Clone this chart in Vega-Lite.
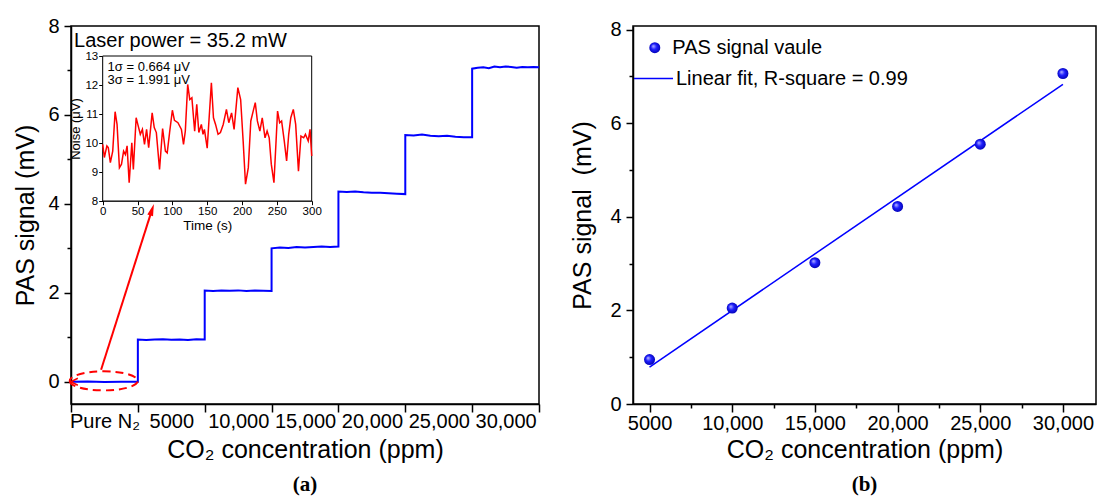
{
"$schema": "https://vega.github.io/schema/vega-lite/v6.json",
"padding": {"left": 13, "top": 15, "right": 0, "bottom": 0},
"spacing": -4,
"resolve": {"legend": {"color": "independent", "shape": "independent"}},
"config": {
  "font": "Liberation Sans",
  "view": {"stroke": "black", "strokeWidth": 1.5},
  "axis": {"grid": false, "domainColor": "black", "domainWidth": 1.5, "tickColor": "black", "tickWidth": 1.5, "labelColor": "black", "titleColor": "black", "labelFont": "Liberation Sans", "titleFont": "Liberation Sans", "titleFontWeight": "normal", "labelFontSize": 20, "titleFontSize": 25, "labelFlush": false, "labelOverlap": false, "labelBound": false},
  "legend": {"labelFont": "Liberation Sans", "labelFontSize": 20, "labelColor": "black", "labelLimit": 500, "padding": 0},
  "title": {"font": "Liberation Serif", "fontSize": 21, "fontWeight": "bold", "color": "black", "orient": "bottom", "anchor": "middle", "frame": "group", "offset": 12}
},
"hconcat": [
{
  "width": 468, "height": 378,
  "title": {"text": "(a)"},
  "layer": [
    {
      "encoding": {
        "x": {"field": "x", "type": "quantitative", "scale": {"domain": [0, 7], "nice": false, "zero": false},
              "axis": {"values": [0,1,2,3,4,5,6,7], "labelExpr": "['Pure N₂','5000','10,000','15,000','20,000','25,000','30,000',''][datum.value]", "labelOffset": 33.5, "tickSize": 8, "labelPadding": -1, "title": "CO₂ concentration (ppm)", "titlePadding": 6}},
        "y": {"field": "y", "type": "quantitative", "scale": {"domain": [-0.5, 8], "nice": false, "zero": false},
              "axis": {"values": [0,1,2,3,4,5,6,7,8], "labelExpr": "datum.value % 2 == 0 ? datum.label : ''", "tickSize": {"condition": {"test": "datum.value % 2 != 0", "value": 4}, "value": 7}, "labelPadding": 5, "title": "PAS signal (mV)", "titlePadding": 9}}
      },
      "layer": [
        {
          "data": {"values": [
            {"i":0,"x":0,"y":0},{"i":1,"x":0.25,"y":0.004},{"i":2,"x":0.5,"y":-0.003},{"i":3,"x":0.75,"y":0.003},{"i":4,"x":1,"y":0},
            {"i":5,"x":1,"y":0.95},{"i":6,"x":1.125,"y":0.94},{"i":7,"x":1.25,"y":0.95},{"i":8,"x":1.375,"y":0.955},{"i":9,"x":1.5,"y":0.945},{"i":10,"x":1.625,"y":0.95},{"i":11,"x":1.75,"y":0.94},{"i":12,"x":1.875,"y":0.955},{"i":13,"x":2,"y":0.95},
            {"i":14,"x":2,"y":2.05},{"i":15,"x":2.125,"y":2.04},{"i":16,"x":2.25,"y":2.05},{"i":17,"x":2.375,"y":2.045},{"i":18,"x":2.5,"y":2.055},{"i":19,"x":2.625,"y":2.04},{"i":20,"x":2.75,"y":2.05},{"i":21,"x":2.875,"y":2.045},{"i":22,"x":3,"y":2.04},
            {"i":23,"x":3,"y":3.0},{"i":24,"x":3.125,"y":3.02},{"i":25,"x":3.25,"y":3.01},{"i":26,"x":3.375,"y":3.03},{"i":27,"x":3.5,"y":3.02},{"i":28,"x":3.625,"y":3.03},{"i":29,"x":3.75,"y":3.04},{"i":30,"x":3.875,"y":3.03},{"i":31,"x":4,"y":3.04},
            {"i":32,"x":4,"y":4.28},{"i":33,"x":4.125,"y":4.27},{"i":34,"x":4.25,"y":4.28},{"i":35,"x":4.375,"y":4.26},{"i":36,"x":4.5,"y":4.25},{"i":37,"x":4.625,"y":4.25},{"i":38,"x":4.75,"y":4.24},{"i":39,"x":4.875,"y":4.23},{"i":40,"x":5,"y":4.22},
            {"i":41,"x":5,"y":5.55},{"i":42,"x":5.125,"y":5.54},{"i":43,"x":5.25,"y":5.56},{"i":44,"x":5.375,"y":5.53},{"i":45,"x":5.5,"y":5.52},{"i":46,"x":5.625,"y":5.53},{"i":47,"x":5.75,"y":5.51},{"i":48,"x":5.875,"y":5.5},{"i":49,"x":6,"y":5.5},
            {"i":50,"x":6,"y":7.04},{"i":51,"x":6.083,"y":7.06},{"i":52,"x":6.167,"y":7.07},{"i":53,"x":6.25,"y":7.05},{"i":54,"x":6.333,"y":7.09},{"i":55,"x":6.417,"y":7.07},{"i":56,"x":6.5,"y":7.09},{"i":57,"x":6.583,"y":7.08},{"i":58,"x":6.667,"y":7.06},{"i":59,"x":6.75,"y":7.08},{"i":60,"x":6.833,"y":7.07},{"i":61,"x":6.917,"y":7.08},{"i":62,"x":7,"y":7.07}
          ]},
          "mark": {"type": "line", "color": "#0000ff", "strokeWidth": 2},
          "encoding": {"order": {"field": "i", "type": "quantitative"}}
        },
        {
          "data": {"values": [{"x": 0.45, "y": 0.27, "x2": 1.212, "y2": 3.87}]},
          "mark": {"type": "rule", "color": "#ff0000", "strokeWidth": 2},
          "encoding": {"x2": {"field": "x2"}, "y2": {"field": "y2"}}
        },
        {
          "data": {"values": [{"x": 1.212, "y": 3.87}]},
          "mark": {"type": "point", "shape": "M 0 -1 L 0.5 1 L -0.5 1 Z", "filled": true, "color": "#ff0000", "size": 144, "angle": 18, "opacity": 1},
          "encoding": {}
        },
        {
          "data": {"values": [{"x": 0.49, "y": 0.02}]},
          "mark": {"type": "point", "shape": "M -1 0 A 1 0.28 0 1 0 1 0 A 1 0.28 0 1 0 -1 0 Z", "filled": false, "stroke": "#ff0000", "strokeWidth": 2, "strokeDash": [8, 5], "size": 4624, "opacity": 1},
          "encoding": {}
        },
        {
          "data": {"values": [{"x": 0.05, "y": 0}]},
          "mark": {"type": "point", "shape": "M 1 -1 L -1 0 L 1 1", "filled": false, "stroke": "#ff0000", "strokeWidth": 1.5, "size": 49, "opacity": 1},
          "encoding": {}
        },
        {
          "data": {"values": [{"x": 0.045, "y": 7.66, "label": "Laser power = 35.2 mW"}]},
          "mark": {"type": "text", "align": "left", "baseline": "middle", "fontSize": 20, "color": "black"},
          "encoding": {"text": {"field": "label"}}
        }
      ]
    },
    {
      "encoding": {
        "x": {"field": "t", "type": "quantitative", "scale": {"domain": [0, 300], "range": [31.7, 240.7], "nice": false, "zero": false},
              "axis": {"orient": "bottom", "offset": -203.3, "values": [0,50,100,150,200,250,300], "labelFontSize": 11.5, "tickSize": 4, "tickWidth": 1, "domainWidth": 1, "labelPadding": 1, "title": "Time (s)", "titleFontSize": 13.5, "titlePadding": 1}},
        "y": {"field": "n", "type": "quantitative", "scale": {"domain": [8, 13], "range": [175, 30], "nice": false, "zero": false},
              "axis": {"orient": "left", "offset": -31.7, "values": [8,9,10,11,12,13], "labelFontSize": 11.5, "tickSize": 4, "tickWidth": 1, "domainWidth": 1, "labelPadding": 1, "title": "Noise (μV)", "titleFontSize": 13, "titlePadding": 2}}
      },
      "layer": [
        {
          "data": {"values": [{"t": 0, "t2": 300, "n": 8, "n2": 13}]},
          "mark": {"type": "rect", "fill": "white", "stroke": "black", "strokeWidth": 1},
          "encoding": {"x2": {"field": "t2"}, "y2": {"field": "n2"}}
        },
        {
          "data": {"values": [
            {"t":0,"n":9.95},{"t":2.4,"n":9.5},{"t":6,"n":9.9},{"t":8,"n":9.84},{"t":11,"n":9.32},{"t":14.4,"n":9.72},{"t":17.8,"n":11.08},{"t":20.6,"n":10.64},{"t":24,"n":9.15},{"t":27,"n":9.27},
            {"t":30,"n":9.72},{"t":32.6,"n":9.6},{"t":35,"n":9.9},{"t":38,"n":8.63},{"t":41.8,"n":10.01},{"t":44,"n":9.09},{"t":48,"n":10.87},{"t":50.4,"n":10.64},{"t":54,"n":10.3},{"t":57,"n":10.47},
            {"t":60,"n":9.95},{"t":63,"n":10.47},{"t":66,"n":9.84},{"t":71,"n":11.04},{"t":74,"n":10.53},{"t":77,"n":10.36},{"t":81.6,"n":9.09},{"t":86,"n":10.5},{"t":90,"n":9.72},{"t":92.6,"n":9.66},
            {"t":96,"n":10.36},{"t":100,"n":11.13},{"t":103,"n":10.78},{"t":108,"n":10.7},{"t":113,"n":10.47},{"t":116,"n":9.95},{"t":118.6,"n":10.41},{"t":122,"n":12.02},{"t":125,"n":11.5},{"t":128,"n":11.56},
            {"t":132,"n":10.41},{"t":135,"n":11.33},{"t":138,"n":10.36},{"t":141.6,"n":10.64},{"t":144,"n":10.3},{"t":146,"n":10.47},{"t":150,"n":9.82},{"t":156,"n":12.08},{"t":159,"n":10.87},{"t":162,"n":10.64},
            {"t":165.6,"n":10.3},{"t":169,"n":10.36},{"t":173,"n":10.64},{"t":177.6,"n":11.16},{"t":181,"n":10.7},{"t":185,"n":11.04},{"t":188.6,"n":10.47},{"t":194,"n":11.91},{"t":198,"n":11.5},{"t":201.6,"n":10.07},
            {"t":205,"n":8.58},{"t":209,"n":9.15},{"t":212.6,"n":10.76},{"t":216,"n":11.1},{"t":219,"n":11.39},{"t":222,"n":10.76},{"t":225.6,"n":10.41},{"t":229,"n":10.87},{"t":233,"n":10.18},{"t":236,"n":10.41},
            {"t":239,"n":10.18},{"t":242,"n":9.27},{"t":245.8,"n":8.63},{"t":248.6,"n":9.95},{"t":251,"n":11.1},{"t":254,"n":10.7},{"t":256.8,"n":10.76},{"t":260.6,"n":10.07},{"t":264,"n":9.38},{"t":267,"n":10.3},
            {"t":270,"n":10.87},{"t":273.6,"n":11.16},{"t":277,"n":10.64},{"t":281,"n":9.03},{"t":284.6,"n":10.24},{"t":288.5,"n":10.18},{"t":291,"n":10.3},{"t":295,"n":10.07},{"t":297.6,"n":10.47},{"t":300,"n":9.55}
          ]},
          "mark": {"type": "line", "color": "#ff0000", "strokeWidth": 1.5}
        },
        {
          "data": {"values": [{"t": 7, "n": 12.62, "label": "1σ = 0.664 μV"}, {"t": 7, "n": 12.16, "label": "3σ = 1.991 μV"}]},
          "mark": {"type": "text", "align": "left", "baseline": "middle", "fontSize": 13, "color": "black"},
          "encoding": {"text": {"field": "label"}}
        }
      ]
    }
  ],
  "resolve": {"scale": {"x": "independent", "y": "independent"}, "axis": {"x": "independent", "y": "independent"}}
},
{
  "width": 463, "height": 378,
  "title": {"text": "(b)"},
  "encoding": {
    "x": {"field": "c", "type": "quantitative", "scale": {"domain": [4000, 32000], "nice": false, "zero": false},
          "axis": {"values": [5000,7500,10000,12500,15000,17500,20000,22500,25000,27500,30000], "labelExpr": "datum.value % 5000 != 0 ? '' : (datum.value == 5000 ? '5000' : format(datum.value, ','))", "tickSize": {"condition": {"test": "datum.value % 5000 != 0", "value": 4}, "value": 8}, "labelPadding": 1, "title": "CO₂ concentration (ppm)", "titlePadding": 4}},
    "y": {"field": "v", "type": "quantitative", "scale": {"domain": [0, 8.075], "nice": false, "zero": false},
          "axis": {"values": [0,1,2,3,4,5,6,7,8], "labelExpr": "datum.value % 2 == 0 ? datum.label : ''", "tickSize": {"condition": {"test": "datum.value % 2 != 0", "value": 4}, "value": 7}, "labelPadding": 5, "title": "PAS signal\u00a0 (mV)", "titlePadding": 14}}
  },
  "layer": [
    {
      "data": {"values": [{"c": 5000, "v": 0.79, "f": "Linear fit, R-square = 0.99"}, {"c": 30000, "v": 6.83, "f": "Linear fit, R-square = 0.99"}]},
      "mark": {"type": "line", "strokeWidth": 1.5},
      "encoding": {
        "color": {"field": "f", "type": "nominal", "scale": {"domain": ["Linear fit, R-square = 0.99"], "range": ["#0000ff"]},
                  "legend": {"title": null, "orient": "none", "legendX": 0, "legendY": 32, "symbolType": "stroke", "symbolSize": 1521, "symbolStrokeWidth": 1.5, "symbolStrokeColor": "#0000ff", "labelOffset": 2}}
      }
    },
    {
      "data": {"values": [
        {"c": 5000, "v": 0.95, "s": "PAS signal vaule"},
        {"c": 10000, "v": 2.05, "s": "PAS signal vaule"},
        {"c": 15000, "v": 3.02, "s": "PAS signal vaule"},
        {"c": 20000, "v": 4.22, "s": "PAS signal vaule"},
        {"c": 25000, "v": 5.55, "s": "PAS signal vaule"},
        {"c": 30000, "v": 7.06, "s": "PAS signal vaule"}
      ]},
      "mark": {"type": "point", "filled": true, "opacity": 1, "size": 121, "fill": {"gradient": "radial", "x1": 0.35, "y1": 0.35, "r1": 0, "x2": 0.5, "y2": 0.5, "r2": 0.55, "stops": [{"offset": 0, "color": "#c0c0ff"}, {"offset": 0.45, "color": "#2020ff"}, {"offset": 1, "color": "#0000b0"}]}},
      "encoding": {
        "shape": {"field": "s", "type": "nominal", "scale": {"domain": ["PAS signal vaule"], "range": ["circle"]},
                  "legend": {"title": null, "orient": "none", "legendX": 11.8, "legendY": 11.7, "symbolSize": 121, "symbolFillColor": "#0000ff", "symbolStrokeColor": "#0000cc", "symbolStrokeWidth": 0.5, "symbolOpacity": 1, "labelOffset": 7.5}}
      }
    }
  ]
}
]
}
